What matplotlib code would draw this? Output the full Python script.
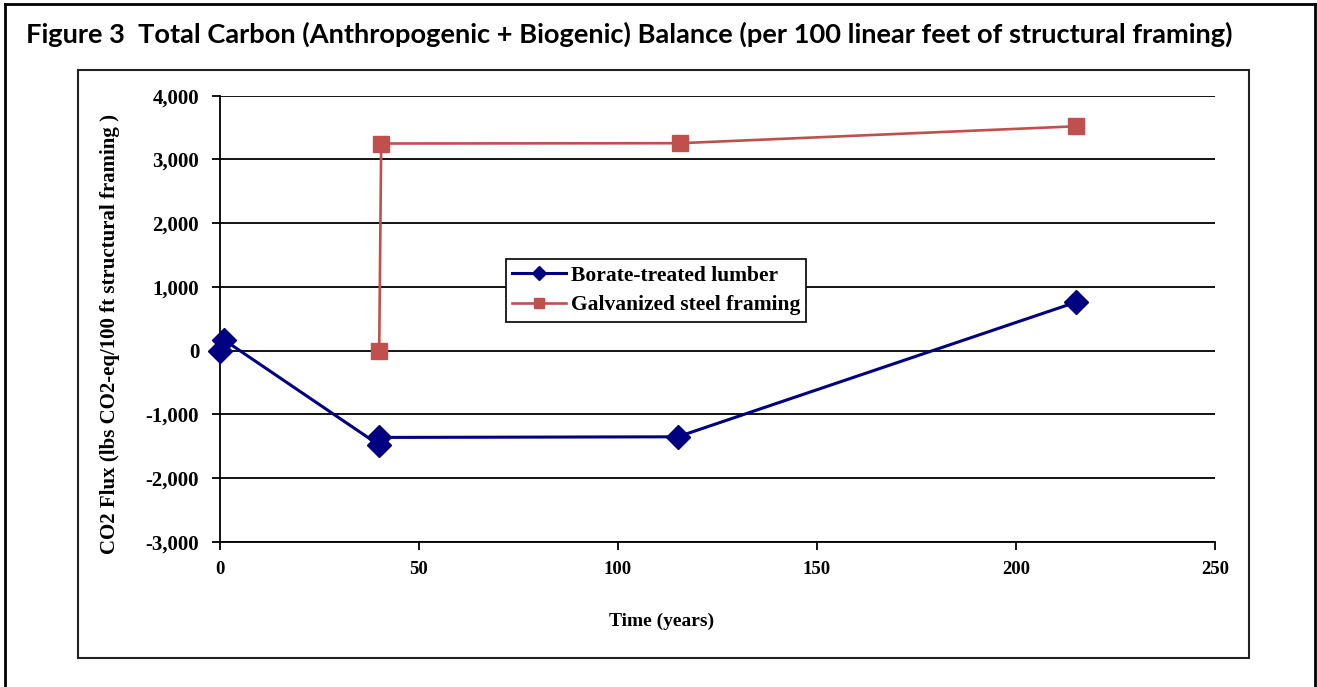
import matplotlib.pyplot as plt
from matplotlib.patches import Rectangle
from matplotlib.lines import Line2D
from matplotlib.ticker import FuncFormatter

# data
borate_x = [0, 1, 40, 40, 115, 215]
borate_y = [0, 170, -1480, -1360, -1350, 760]
steel_x = [40, 40.5, 115.5, 215]
steel_y = [0, 3250, 3255, 3520]

x_ticks = [0, 50, 100, 150, 200, 250]
y_ticks = [-3000, -2000, -1000, 0, 1000, 2000, 3000, 4000]

W, H = 1317, 687
fig = plt.figure(figsize=(W / 100, H / 100), dpi=100)

serif = ['Liberation Serif', 'DejaVu Serif']

# outer frame (top, left, right)
fig.add_artist(Line2D([5 / W, 1315 / W], [1 - 4 / H, 1 - 4 / H], transform=fig.transFigure, color='black', lw=2))
fig.add_artist(Line2D([5 / W, 5 / W], [0, 1 - 4 / H], transform=fig.transFigure, color='black', lw=2))
fig.add_artist(Line2D([1315 / W, 1315 / W], [0, 1 - 4 / H], transform=fig.transFigure, color='black', lw=2))

# chart box
fig.add_artist(Rectangle((78 / W, 1 - 658 / H), (1249 - 78) / W, (658 - 70) / H,
                         transform=fig.transFigure, fill=False, ec='#222222', lw=1.5))

title = fig.text(26 / W, 1 - 43 / H,
                 'Figure 3  Total Carbon (Anthropogenic + Biogenic) Balance (per 100 linear feet of structural framing)',
                 family=['Lato', 'DejaVu Sans'], fontweight='bold', fontsize=20,
                 ha='left', va='baseline')
# shrink the title so it spans the same width as in the original
r = fig.canvas.get_renderer()
w = title.get_window_extent(r).width
title.set_fontsize(20 * 1213 / w)

ax = fig.add_axes([220 / W, 1 - 542 / H, (1215 - 220) / W, (542 - 95.7) / H])

ax.plot(borate_x, borate_y, color='#000080', lw=2.2, marker='D', markersize=12,
        label='Borate-treated lumber', zorder=3, clip_on=False)
ax.plot(steel_x, steel_y, color='#C0504D', lw=1.9, marker='s', markersize=11,
        label='Galvanized steel framing', zorder=3, clip_on=False)

ax.set_xlim(0, 250)
ax.set_ylim(-3000, 4000)
ax.set_xticks(x_ticks)
ax.set_yticks(y_ticks)
ax.yaxis.set_major_formatter(FuncFormatter(lambda v, p: f'{v:,.0f}'))
ax.grid(axis='y', color='black', lw=1.3)
ax.set_axisbelow(True)
for s in ['top', 'right']:
    ax.spines[s].set_visible(False)
for s in ['left', 'bottom']:
    ax.spines[s].set_linewidth(1.3)
ax.tick_params(axis='both', direction='out', length=6, width=1.3)
ax.tick_params(axis='y', pad=9)
ax.tick_params(axis='x', pad=8)
for lab in ax.get_xticklabels():
    lab.set_family(serif)
    lab.set_fontweight('bold')
    lab.set_fontsize(13.5)
for lab in ax.get_yticklabels():
    lab.set_family(serif)
    lab.set_fontweight('bold')
    lab.set_fontsize(15)

fig.text(110 / W, 1 - 334 / H, 'CO2 Flux (lbs CO2-eq/100 ft structural framing )',
         family=serif, fontweight='bold', fontsize=15, rotation=90, ha='center', va='center')
fig.text(662 / W, 1 - 621 / H, 'Time (years)', family=serif, fontweight='bold',
         fontsize=14, ha='center', va='center')

leg = ax.legend(loc='upper left', bbox_to_anchor=(506 / W, 1 - 259 / H),
                bbox_transform=fig.transFigure, frameon=True, fancybox=False,
                edgecolor='black', framealpha=1, handlelength=2.5, handletextpad=0.2,
                borderpad=0.3, labelspacing=0.45, markerscale=0.6, borderaxespad=0,
                prop={'family': serif, 'weight': 'bold', 'size': 15.5})
leg.get_frame().set_linewidth(1.2)

fig.savefig('out.png', dpi=100)
